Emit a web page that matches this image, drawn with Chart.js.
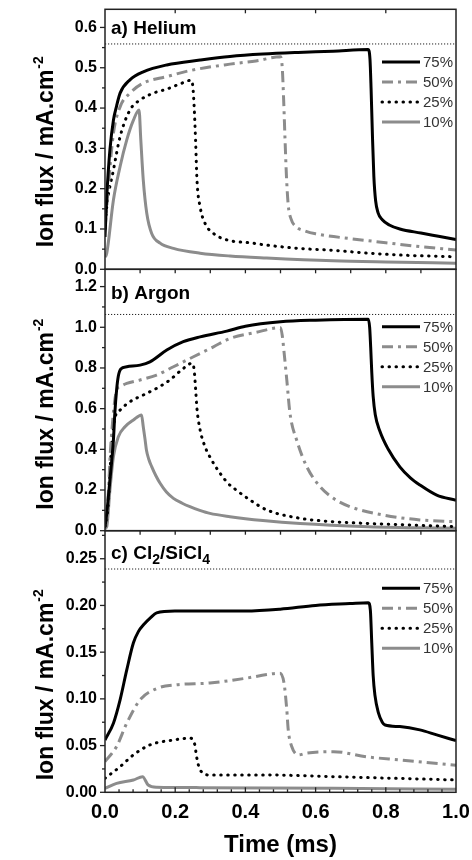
<!DOCTYPE html>
<html>
<head>
<meta charset="utf-8">
<title>Ion flux vs time</title>
<script src="https://cdn.jsdelivr.net/npm/chart.js@4.4.1/dist/chart.umd.min.js"></script>
<style>
  html, body { margin: 0; padding: 0; background: #fff; }
  #page { position: relative; width: 472px; height: 860px; overflow: hidden; }
  .panel { position: absolute; left: 0; width: 472px; }
</style>
</head>
<body>
<div id="page">
  <div class="panel" style="top:0;height:280px"><canvas id="chartHe" width="472" height="280"></canvas></div>
  <div class="panel" style="top:262px;height:280px"><canvas id="chartAr" width="472" height="280"></canvas></div>
  <div class="panel" style="top:520px;height:340px"><canvas id="chartCl" width="472" height="340"></canvas></div>
</div>
<script>
/* ---- data: [time (ms), ion flux (mA.cm-2)] ---- */
const seriesLabels = ['75%', '50%', '25%', '10%'];

const he75 = [[0,0.08],[0.005,0.18],[0.014,0.296],[0.024,0.37],[0.033,0.405],[0.043,0.437],[0.071,0.47],[0.109,0.49],[0.176,0.507],[0.271,0.519],[0.356,0.528],[0.45,0.534],[0.55,0.538],[0.65,0.541],[0.75,0.545],[0.755,0.52],[0.758,0.45],[0.762,0.33],[0.766,0.23],[0.771,0.17],[0.778,0.14],[0.79,0.123],[0.81,0.11],[0.84,0.1],[0.9,0.09],[0.95,0.082],[1.0,0.074]];
const he50 = [[0,0.1],[0.01,0.21],[0.024,0.337],[0.043,0.403],[0.071,0.437],[0.109,0.462],[0.176,0.478],[0.242,0.493],[0.356,0.509],[0.43,0.517],[0.5,0.527],[0.505,0.5],[0.509,0.42],[0.513,0.32],[0.517,0.23],[0.522,0.16],[0.53,0.125],[0.545,0.105],[0.57,0.095],[0.6,0.088],[0.7,0.076],[0.8,0.066],[0.9,0.056],[1.0,0.048]];
const he25 = [[0,0.1],[0.005,0.155],[0.024,0.246],[0.043,0.329],[0.071,0.395],[0.1,0.42],[0.138,0.437],[0.176,0.447],[0.214,0.46],[0.246,0.469],[0.25,0.455],[0.254,0.403],[0.258,0.321],[0.262,0.222],[0.271,0.155],[0.285,0.114],[0.309,0.089],[0.347,0.073],[0.42,0.065],[0.46,0.06],[0.55,0.052],[0.65,0.047],[0.75,0.04],[0.85,0.035],[1.0,0.031]];
const he10 = [[0,0.03],[0.005,0.04],[0.024,0.172],[0.043,0.255],[0.062,0.321],[0.081,0.37],[0.097,0.395],[0.102,0.321],[0.109,0.222],[0.119,0.139],[0.133,0.089],[0.157,0.065],[0.195,0.052],[0.271,0.04],[0.356,0.033],[0.46,0.028],[0.65,0.021],[0.8,0.018],[1.0,0.015]];

const ar75 = [[0,0.02],[0.005,0.085],[0.014,0.25],[0.024,0.446],[0.028,0.577],[0.033,0.691],[0.038,0.76],[0.045,0.795],[0.062,0.806],[0.1,0.814],[0.128,0.83],[0.176,0.888],[0.223,0.929],[0.271,0.953],[0.347,0.981],[0.4,1.005],[0.5,1.027],[0.6,1.035],[0.75,1.04],[0.754,1.0],[0.757,0.9],[0.76,0.78],[0.764,0.66],[0.77,0.57],[0.783,0.49],[0.807,0.4],[0.84,0.314],[0.87,0.26],[0.897,0.225],[0.945,0.175],[1.0,0.15]];
const ar50 = [[0,0.03],[0.005,0.08],[0.01,0.2],[0.015,0.38],[0.02,0.5],[0.025,0.6],[0.033,0.69],[0.045,0.71],[0.062,0.724],[0.1,0.741],[0.147,0.765],[0.195,0.806],[0.252,0.855],[0.309,0.904],[0.356,0.945],[0.43,0.975],[0.5,0.998],[0.505,0.96],[0.51,0.88],[0.518,0.74],[0.527,0.577],[0.546,0.446],[0.575,0.314],[0.613,0.216],[0.651,0.159],[0.698,0.118],[0.793,0.077],[0.897,0.053],[1.0,0.044]];
const ar25 = [[0,0.02],[0.005,0.06],[0.01,0.15],[0.018,0.4],[0.028,0.552],[0.043,0.593],[0.071,0.634],[0.109,0.667],[0.147,0.7],[0.185,0.741],[0.218,0.79],[0.248,0.823],[0.254,0.79],[0.258,0.7],[0.262,0.6],[0.271,0.495],[0.285,0.413],[0.304,0.347],[0.328,0.282],[0.351,0.232],[0.37,0.205],[0.413,0.151],[0.461,0.102],[0.556,0.061],[0.651,0.044],[0.745,0.036],[1.0,0.02]];
const ar10 = [[0,0.01],[0.005,0.02],[0.014,0.2],[0.024,0.364],[0.038,0.462],[0.057,0.511],[0.081,0.544],[0.104,0.569],[0.109,0.511],[0.114,0.45],[0.118,0.397],[0.125,0.35],[0.133,0.315],[0.145,0.27],[0.157,0.233],[0.175,0.19],[0.195,0.159],[0.22,0.135],[0.242,0.118],[0.27,0.1],[0.299,0.085],[0.356,0.069],[0.45,0.05],[0.556,0.035],[0.75,0.02],[1.0,0.012]];

const cl75 = [[0,0.056],[0.024,0.074],[0.043,0.099],[0.062,0.131],[0.081,0.16],[0.095,0.172],[0.109,0.179],[0.13,0.187],[0.147,0.192],[0.199,0.194],[0.299,0.194],[0.4,0.194],[0.499,0.196],[0.6,0.2],[0.698,0.202],[0.75,0.203],[0.756,0.195],[0.76,0.16],[0.764,0.125],[0.769,0.104],[0.779,0.085],[0.79,0.075],[0.798,0.072],[0.84,0.0703],[0.897,0.0668],[0.945,0.0614],[1.0,0.0553]];
const cl50 = [[0,0.033],[0.033,0.049],[0.062,0.074],[0.1,0.099],[0.147,0.111],[0.2,0.115],[0.299,0.117],[0.4,0.122],[0.461,0.126],[0.499,0.1275],[0.51,0.117],[0.518,0.088],[0.522,0.067],[0.532,0.049],[0.551,0.04],[0.575,0.042],[0.651,0.0435],[0.745,0.038],[0.84,0.0346],[1.0,0.029]];
const cl25 = [[0,0.015],[0.043,0.0274],[0.081,0.04],[0.128,0.0507],[0.195,0.056],[0.242,0.0579],[0.256,0.0507],[0.261,0.038],[0.271,0.0239],[0.299,0.0185],[0.461,0.0185],[0.651,0.0167],[1.0,0.0132]];
const cl10 = [[0,0.0043],[0.033,0.0096],[0.081,0.0132],[0.107,0.0167],[0.123,0.0078],[0.147,0.0054],[0.271,0.005],[0.651,0.0043],[1.0,0.0032]];

// dotted horizontal reference level of each panel
const refLevels = [0.559, 1.063, 0.239];
const yMaxes = [0.645, 1.285, 0.28];
const titleHe = ['a) Helium'];
const titleAr = ['b) Argon'];
const titleCl = ['c) Cl', '2', '/SiCl', '4'];   // odd entries are subscripts

/* ---- styles ---- */
const FONT = "'Liberation Sans', Arial, Helvetica, sans-serif";
Chart.defaults.font.family = FONT;
Chart.defaults.color = '#000';

const GREY = '#8c8c8c';
const seriesStyle = [
  { color: '#000', dash: [], cap: 'butt' },
  { color: GREY, dash: [11, 5, 3, 5], cap: 'butt' },
  { color: '#000', dash: [0.5, 6.5], cap: 'round' },
  { color: GREY, dash: [], cap: 'butt' }
];

// frame, inward/outward ticks, panel title, legend and y-title
const framePlugin = {
  id: 'frame',
  afterDatasetsDraw(chart, args, o) {
    const { ctx, chartArea: a, scales: { x, y } } = chart;
    ctx.save();

    // legend (clipped to the plot box like the original)
    ctx.save();
    ctx.beginPath();
    ctx.rect(a.left, a.top, a.right - a.left, a.bottom - a.top);
    ctx.clip();
    chart.data.datasets.filter(d => !d.isRef).forEach((d, i) => {
      const ly = a.top + o.legendTop + i * o.legendGap;
      ctx.strokeStyle = d.borderColor;
      ctx.lineWidth = d.borderWidth;
      ctx.setLineDash(d.borderDash);
      ctx.lineCap = d.borderCapStyle;
      ctx.beginPath();
      ctx.moveTo(382, ly);
      ctx.lineTo(420, ly);
      ctx.stroke();
      ctx.setLineDash([]);
      ctx.lineCap = 'butt';
      ctx.fillStyle = '#333';
      ctx.font = `15px ${FONT}`;
      ctx.textBaseline = 'middle';
      ctx.fillText(d.label, 423, ly + 1);
    });
    ctx.restore();

    // panel title with subscripts
    let tx = a.left + 6;
    const ty = a.top + o.titleBase;
    ctx.fillStyle = '#000';
    ctx.textBaseline = 'alphabetic';
    o.title.forEach((t, i) => {
      const sub = i % 2 === 1;
      ctx.font = `bold ${sub ? 14 : 19}px ${FONT}`;
      ctx.fillText(t, tx, sub ? ty + 5 : ty);
      tx += ctx.measureText(t).width;
    });

    // box
    ctx.strokeStyle = '#222';
    ctx.lineWidth = 1.5;
    ctx.strokeRect(a.left, a.top, a.right - a.left, a.bottom - a.top);

    // left ticks, outward
    ctx.lineWidth = 1.3;
    const n = Math.floor(y.max / o.yMinor + 1e-6);
    for (let i = 0; i <= n; i++) {
      const v = i * o.yMinor;
      const major = Math.abs(v / o.yMajor - Math.round(v / o.yMajor)) < 1e-6;
      const py = y.getPixelForValue(v);
      ctx.beginPath();
      ctx.moveTo(a.left - (major ? 5 : 3), py);
      ctx.lineTo(a.left, py);
      ctx.stroke();
    }
    // top ticks, pointing down
    for (let i = 1; i * o.topStep < 1 - 1e-6; i++) {
      const px = x.getPixelForValue(i * o.topStep);
      ctx.beginPath();
      ctx.moveTo(px, a.top);
      ctx.lineTo(px, a.top + 4);
      ctx.stroke();
    }
    // bottom ticks, pointing up
    if (o.bottomStep) {
      for (let i = 1; i * o.bottomStep < 1 - 1e-6; i++) {
        const v = i * o.bottomStep;
        const major = Math.abs(v / 0.2 - Math.round(v / 0.2)) < 1e-6;
        const px = x.getPixelForValue(v);
        ctx.beginPath();
        ctx.moveTo(px, a.bottom);
        ctx.lineTo(px, a.bottom - (major ? 5 : 3));
        ctx.stroke();
      }
    }

    // y title, rotated
    ctx.translate(53, a.bottom - o.yTitleShift);
    ctx.rotate(-Math.PI / 2);
    ctx.font = `bold 23px ${FONT}`;
    ctx.fillText('Ion flux / mA.cm', 0, 0);
    const w = ctx.measureText('Ion flux / mA.cm').width;
    ctx.font = `bold 14px ${FONT}`;
    ctx.fillText('-2', w + 1, -10);
    ctx.restore();
  }
};

function buildDatasets(series, ref) {
  const ds = [{
    isRef: true, data: [[0, ref], [1, ref]],
    borderColor: '#222', borderWidth: 1, borderDash: [1.2, 1.8], pointRadius: 0
  }];
  series.forEach((s, i) => {
    const st = seriesStyle[i];
    ds.push({
      label: seriesLabels[i], data: s,
      borderColor: st.color, borderWidth: 3, borderDash: st.dash, borderCapStyle: st.cap,
      borderJoinStyle: 'round', pointRadius: 0, cubicInterpolationMode: 'monotone', fill: false
    });
  });
  return ds;
}

// keep the plot box exactly where the padding puts it
function noEdgePadding(s) {
  s.paddingTop = 0; s.paddingBottom = 0; s.paddingLeft = 0; s.paddingRight = 0;
}

function makePanel(p) {
  const xAxis = p.showX ? {
    type: 'linear', min: 0, max: 1,
    afterFit: s => { s.height = p.xHeight; noEdgePadding(s); },
    grid: { display: false, drawTicks: false },
    border: { display: false },
    ticks: { stepSize: 0.2, padding: 8, color: '#000', font: { size: 20, weight: 'bold' },
             maxRotation: 0, autoSkip: false, callback: v => v.toFixed(1) },
    title: { display: true, text: 'Time (ms)', color: '#000', font: { size: 24, weight: 'bold' },
             padding: { top: 0, bottom: 0 } }
  } : { type: 'linear', min: 0, max: 1, display: false };

  return new Chart(document.getElementById(p.canvas), {
    type: 'line',
    data: { datasets: buildDatasets(p.series, p.ref) },
    options: {
      responsive: false, animation: false, devicePixelRatio: 1,
      layout: { padding: { top: p.padTop, right: 16, bottom: p.padBottom, left: 0 } },
      plugins: {
        legend: { display: false }, tooltip: { enabled: false },
        frame: {
          yMajor: p.yMajor, yMinor: p.yMinor, topStep: p.topStep, bottomStep: p.bottomStep,
          title: p.title, titleBase: p.titleBase, legendTop: p.legendTop, legendGap: 20,
          yTitleShift: p.yTitleShift
        }
      },
      scales: {
        x: xAxis,
        y: {
          type: 'linear', min: 0, max: p.yMax,
          afterFit: s => { s.width = 105; noEdgePadding(s); },
          grid: { display: false, drawTicks: false },
          border: { display: false },
          ticks: { stepSize: p.yMajor, includeBounds: false, padding: 8, color: '#000',
                   font: { size: 16, weight: 'bold' }, callback: v => v.toFixed(p.dec) }
        }
      }
    },
    plugins: [framePlugin]
  });
}

makePanel({ canvas: 'chartHe', series: [he75, he50, he25, he10], ref: refLevels[0], yMax: yMaxes[0],
  yMajor: 0.1, yMinor: 0.05, dec: 1, padTop: 9.3, padBottom: 10.7, topStep: 0.2,
  title: titleHe, titleBase: 24.3, legendTop: 52.7, yTitleShift: 22 });
makePanel({ canvas: 'chartAr', series: [ar75, ar50, ar25, ar10], ref: refLevels[1], yMax: yMaxes[1],
  yMajor: 0.2, yMinor: 0.1, dec: 1, padTop: 7.3, padBottom: 11.3, topStep: 0.1,
  title: titleAr, titleBase: 30, legendTop: 57.4, yTitleShift: 21 });
makePanel({ canvas: 'chartCl', series: [cl75, cl50, cl25, cl10], ref: refLevels[2], yMax: yMaxes[2],
  yMajor: 0.05, yMinor: 0.025, dec: 2, padTop: 10.7, padBottom: 0, topStep: 0.1, bottomStep: 0.04,
  showX: true, xHeight: 67.7,
  title: titleCl, titleBase: 28.6, legendTop: 57.6, yTitleShift: 12 });
</script>
</body>
</html>
